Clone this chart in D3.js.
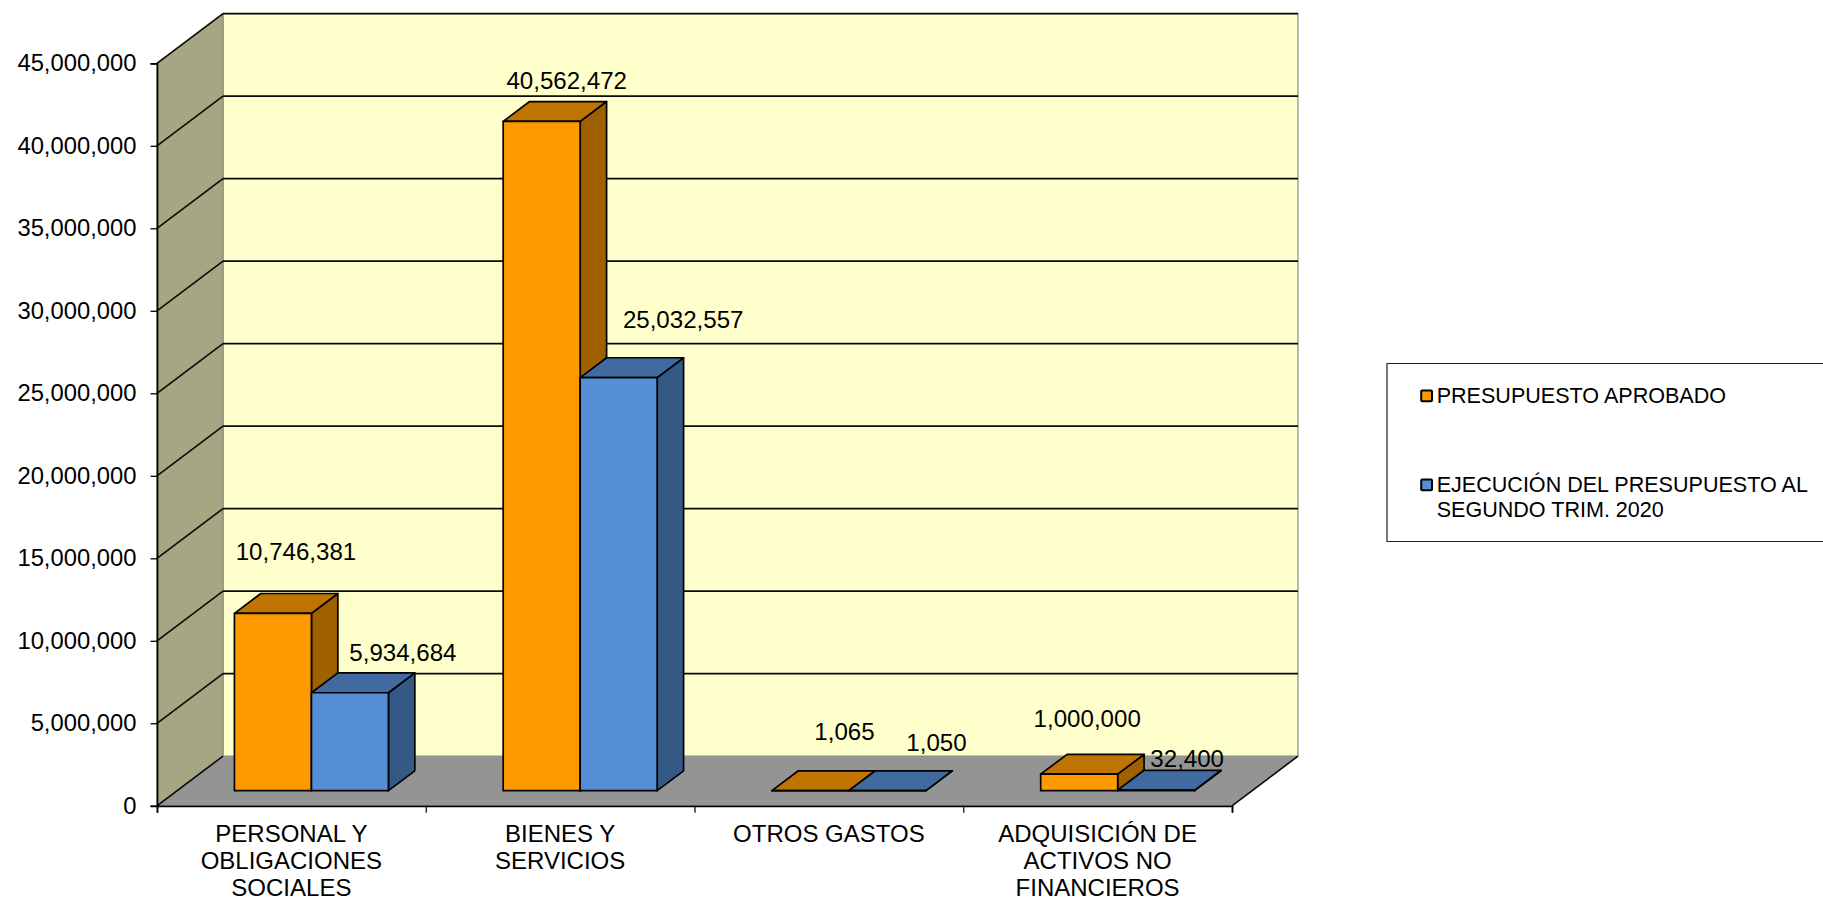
<!DOCTYPE html>
<html>
<head>
<meta charset="utf-8">
<script src="https://cdn.jsdelivr.net/npm/d3@7"></script>
<style>
html, body { margin: 0; padding: 0; background: #fff; overflow: hidden; }
text { font-family: "Liberation Sans", Arial, sans-serif; fill: #000; }
</style>
</head>
<body>
<svg id="chart" width="1823" height="902"></svg>
<script>
// chart data
var categories = [
    ["PERSONAL Y", "OBLIGACIONES", "SOCIALES"],
    ["BIENES Y", "SERVICIOS"],
    ["OTROS GASTOS"],
    ["ADQUISICIÓN DE", "ACTIVOS NO", "FINANCIEROS"]
];
var series_names = [
    ["PRESUPUESTO APROBADO"],
    ["EJECUCIÓN DEL PRESUPUESTO AL", "SEGUNDO TRIM. 2020"]
];
var aprobado = [10746381, 40562472, 1065, 1000000];
var ejecucion = [5934684, 25032557, 1050, 32400];
var y_ticks = [0, 5000000, 10000000, 15000000, 20000000, 25000000, 30000000, 35000000, 40000000, 45000000];

// hand placed label offsets, from the middle of the bar top
var label_nudge = [
    [[23, -53.6], [53, -31.4]],
    [[25, -32], [64.5, -50]],
    [[34, -50.7], [49, -39.7]],
    [[8, -47.5], [31, -23]]
];

var series_colors = [
    {front: "#FF9900", top: "#BF7300", side: "#9F6000"},
    {front: "#558ED5", top: "#406AA0", side: "#355985"}
];

var svg = d3.select("#chart");
var fmt = d3.format(",");

var left = 157, right = 1232, bottom = 805.8, top_y = 63.3;
var depth_x = 66, depth_y = -49.7;
var bar_z = 0.304, bar_depth = 0.4;

var y = d3.scaleLinear().domain([0, 45000000]).range([bottom, top_y]);
var x_edges = d3.scaleLinear().domain([0, categories.length]).range([left, right]);
var x_cat = d3.scaleBand().domain(d3.range(categories.length)).range([left, right]).paddingInner(0.427).paddingOuter(0.2135);
var x_series = d3.scaleBand().domain([0, 1]).range([0, x_cat.bandwidth()]);

function pts(list){
    return list.map(function(p){ return p[0] + "," + p[1]; }).join(" ");
}

// walls and floor
svg.append("polygon")
    .attr("points", pts([[left + depth_x, y(45000000) + depth_y], [right + depth_x, y(45000000) + depth_y], [right + depth_x, bottom + depth_y], [left + depth_x, bottom + depth_y]]))
    .attr("fill", "#FFFFCC")
    .attr("stroke", "#8c8c80")
    .attr("stroke-width", 1.2);
svg.append("polygon")
    .attr("points", pts([[left, y(45000000)], [left + depth_x, y(45000000) + depth_y], [left + depth_x, bottom + depth_y], [left, bottom]]))
    .attr("fill", "#A6A682")
    .attr("stroke", "#8c8c80")
    .attr("stroke-width", 1.2);
svg.append("polygon")
    .attr("points", pts([[left, bottom], [left + depth_x, bottom + depth_y], [right + depth_x, bottom + depth_y], [right, bottom]]))
    .attr("fill", "#949494");

// gridlines on both walls
var grid = svg.append("g").attr("fill", "none").attr("stroke", "#0a0a0a").attr("stroke-width", 1.6);
y_ticks.forEach(function(t){
    if(t > 0){
        grid.append("line")
            .attr("x1", left + depth_x).attr("x2", right + depth_x)
            .attr("y1", y(t) + depth_y).attr("y2", y(t) + depth_y);
    }
    grid.append("line")
        .attr("x1", left).attr("x2", left + depth_x)
        .attr("y1", y(t)).attr("y2", y(t) + depth_y);
});
grid.append("line")
    .attr("x1", right).attr("x2", right + depth_x)
    .attr("y1", bottom).attr("y2", bottom + depth_y);

// bars
[aprobado, ejecucion].forEach(function(values, s){
    var g = svg.append("g")
        .attr("stroke", "#000")
        .attr("stroke-width", 1.7)
        .attr("stroke-linejoin", "round");
    values.forEach(function(v, c){
        var x0 = x_cat(c) + x_series(s) + depth_x * bar_z;
        var x1 = x0 + x_series.bandwidth();
        var y0 = bottom + depth_y * bar_z;
        var y1 = y(v) + depth_y * bar_z;
        var dx = depth_x * bar_depth, dy = depth_y * bar_depth;
        g.append("polygon")
            .attr("points", pts([[x1, y0], [x1 + dx, y0 + dy], [x1 + dx, y1 + dy], [x1, y1]]))
            .attr("fill", series_colors[s].side);
        g.append("polygon")
            .attr("points", pts([[x0, y1], [x1, y1], [x1 + dx, y1 + dy], [x0 + dx, y1 + dy]]))
            .attr("fill", series_colors[s].top);
        g.append("rect")
            .attr("x", x0).attr("y", y1)
            .attr("width", x1 - x0).attr("height", y0 - y1)
            .attr("fill", series_colors[s].front);
    });
});

// axes
var y_axis = svg.append("g")
    .attr("transform", "translate(" + left + ",0)")
    .call(d3.axisLeft(y).tickValues(y_ticks).tickFormat(fmt).tickSize(6.5).tickPadding(14));
y_axis.selectAll("text").style("font-size", "23.8px").style("font-family", '"Liberation Sans", Arial, sans-serif');
y_axis.selectAll("line").attr("stroke", "#000").attr("stroke-width", 1.3);
y_axis.select(".domain").attr("stroke", "#000").attr("stroke-width", 1.7);

var x_axis = svg.append("g")
    .attr("transform", "translate(0," + bottom + ")")
    .call(d3.axisBottom(x_edges).tickValues(d3.range(categories.length + 1)).tickFormat("").tickSize(7));
x_axis.selectAll("line").attr("stroke", "#000").attr("stroke-width", 1.2);
x_axis.select(".domain").attr("stroke", "#000").attr("stroke-width", 1.8);

// category labels
categories.forEach(function(lines, c){
    var t = svg.append("text")
        .attr("text-anchor", "middle")
        .style("font-size", "24px");
    lines.forEach(function(line, i){
        t.append("tspan")
            .attr("x", x_edges(c + 0.5))
            .attr("y", 841.7 + i * 27.2)
            .text(line);
    });
});

// value labels
[aprobado, ejecucion].forEach(function(values, s){
    values.forEach(function(v, c){
        svg.append("text")
            .attr("text-anchor", "middle")
            .attr("x", x_cat(c) + x_series(s) + x_series.bandwidth() / 2 + depth_x * bar_z + label_nudge[c][s][0])
            .attr("y", y(v) + depth_y * bar_z + label_nudge[c][s][1])
            .style("font-size", "24.1px")
            .text(fmt(v));
    });
});

// legend, it runs off the right edge of the page
svg.append("path")
    .attr("d", "M1823,363.5H1387V541.5H1823")
    .attr("fill", "#fff")
    .attr("stroke", "#222")
    .attr("stroke-width", 1.2);
var legend_y = [403.3, 492.3];
series_names.forEach(function(lines, s){
    svg.append("rect")
        .attr("x", 1421.2).attr("y", legend_y[s] - 12.8)
        .attr("width", 10.8).attr("height", 10.8)
        .attr("rx", 1)
        .attr("fill", series_colors[s].front)
        .attr("stroke", "#000")
        .attr("stroke-width", 2);
    lines.forEach(function(line, i){
        svg.append("text")
            .attr("x", 1436.7)
            .attr("y", legend_y[s] + i * 24.4)
            .style("font-size", "21.55px")
            .text(line);
    });
});
</script>
</body>
</html>
